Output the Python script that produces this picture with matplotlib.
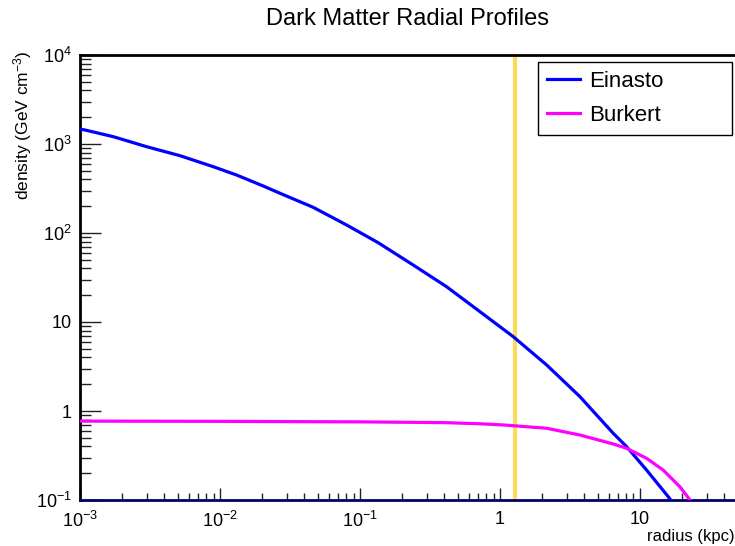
import matplotlib
matplotlib.use("Agg")
import matplotlib.pyplot as plt
from matplotlib.ticker import FixedLocator, FixedFormatter, NullFormatter

plt.rcParams['font.family'] = ['Liberation Sans', 'DejaVu Sans']
plt.rcParams['mathtext.fontset'] = 'custom'
plt.rcParams['mathtext.rm'] = 'Liberation Sans'
plt.rcParams['mathtext.it'] = 'Liberation Sans'
plt.rcParams['mathtext.bf'] = 'Liberation Sans'

title = "Dark Matter Radial Profiles"
xlabel = "radius (kpc)"
ylabel = r"density (GeV cm$^{-3}$)"

# Einasto profile
einasto_r = [1.0e-3, 1.086e-3, 1.73e-3, 2.99e-3, 5.18e-3, 8.95e-3, 0.01315, 0.0204, 0.0269,
             0.0463, 0.0803, 0.135, 0.240, 0.416, 0.720, 1.245, 2.157, 3.73, 6.45, 8.04,
             11.16, 15.93, 16.6]
einasto_rho = [1470, 1437, 1208, 933, 739, 556, 448, 337, 279,
               194.5, 123, 77.8, 43.7, 24.9, 13.06, 6.84, 3.29, 1.449, 0.561, 0.397,
               0.217, 0.109, 0.1]

# Burkert profile
burkert_r = [1.0e-3, 0.01, 0.1, 0.4, 0.7, 1.056, 2.157, 3.73, 6.45, 8.04, 11.16, 14.66, 19.3, 22.8]
burkert_rho = [0.77, 0.765, 0.755, 0.74, 0.72, 0.697, 0.64, 0.537, 0.426, 0.381, 0.294, 0.217, 0.141, 0.1]

vline_r = 1.28

x_ticks = [1e-3, 1e-2, 1e-1, 1, 10]
x_ticklabels = [r"$10^{-3}$", r"$10^{-2}$", r"$10^{-1}$", "1", "10"]
y_ticks = [1e-1, 1, 10, 1e2, 1e3, 1e4]
y_ticklabels = [r"$10^{-1}$", "1", "10", r"$10^{2}$", r"$10^{3}$", r"$10^{4}$"]

fig = plt.figure(figsize=(7.35, 5.46), dpi=100)
W, H = 735, 546
L, R, T, B = 80, 735, 55, 500
ax = fig.add_axes([L / W, 1 - B / H, (R - L) / W, (B - T) / H])

ax.set_xscale('log')
ax.set_yscale('log')
ax.set_xlim(1e-3, 47.8)
ax.set_ylim(1e-1, 1e4)

ax.axvline(vline_r, color='#FADB5C', lw=3.0, zorder=1)
l1, = ax.plot(einasto_r, einasto_rho, color='#0000FF', lw=2.3, label='Einasto', zorder=3)
l2, = ax.plot(burkert_r, burkert_rho, color='#FF00FF', lw=2.3, label='Burkert', zorder=3)

ax.spines['left'].set_linewidth(2.0)
ax.spines['top'].set_linewidth(2.0)
ax.spines['bottom'].set_linewidth(2.0)
ax.spines['bottom'].set_color('#000066')
ax.spines['right'].set_visible(False)

minor_x = [m * 10.0 ** e for e in range(-3, 2) for m in range(2, 10) if m * 10.0 ** e < 47.8]
minor_y = [m * 10.0 ** e for e in range(-1, 4) for m in range(2, 10)]

ax.xaxis.set_major_locator(FixedLocator(x_ticks))
ax.xaxis.set_major_formatter(FixedFormatter(x_ticklabels))
ax.xaxis.set_minor_locator(FixedLocator(minor_x))
ax.xaxis.set_minor_formatter(NullFormatter())
ax.yaxis.set_major_locator(FixedLocator(y_ticks))
ax.yaxis.set_major_formatter(FixedFormatter(y_ticklabels))
ax.yaxis.set_minor_locator(FixedLocator(minor_y))
ax.yaxis.set_minor_formatter(NullFormatter())

ax.tick_params(axis='x', which='major', direction='in', length=9, width=1, color='#222222',
               labelsize=13, pad=8, top=False)
ax.tick_params(axis='x', which='minor', direction='in', length=5, width=1, color='#222222', top=False)
ax.tick_params(axis='y', which='major', direction='in', length=15, width=1, color='#222222',
               labelsize=13, pad=6, right=False)
ax.tick_params(axis='y', which='minor', direction='in', length=8, width=1, color='#222222', right=False)

fig.text(735 / W, 1 - 537 / H, xlabel, ha='right', va='center', fontsize=12)
fig.text(23 / W, 1 - 50 / H, ylabel, ha='center', va='top', rotation=90, fontsize=12.5)
fig.text(408 / W, 1 - 19 / H, title, ha='center', va='center', fontsize=17)

leg = ax.legend(handles=[l1, l2], loc='upper left',
                bbox_to_anchor=(538 / W, 1 - 140 / H, 194 / W, 78 / H),
                bbox_transform=fig.transFigure, mode='expand',
                fontsize=16, frameon=True, fancybox=False, framealpha=1,
                edgecolor='black', handlelength=1.5, handletextpad=0.4,
                borderpad=0.4, labelspacing=0.6, borderaxespad=0)
leg.get_frame().set_linewidth(1.0)

fig.savefig('out.png', dpi=100)
